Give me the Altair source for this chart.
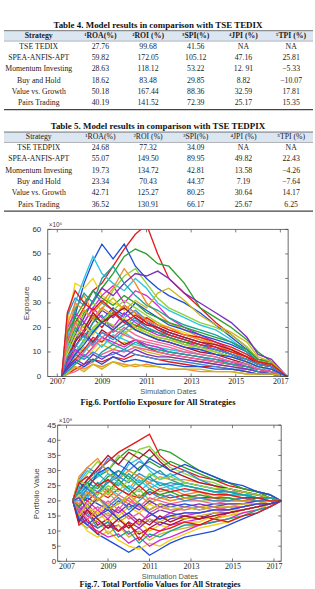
import altair as alt
import pandas as pd

# ---------------- table contents ----------------
headers = ["Strategy", "¹ROA(%)", "²ROI (%)", "³SPI(%)", "⁴JPI (%)", "⁵TPI (%)"]
metric_keys = ["ROA", "ROI", "SPI", "JPI", "TPI"]

table4_title = "Table 4. Model results in comparison with TSE TEDIX"
strategies4 = ["TSE TEDIX", "SPEA-ANFIS-APT", "Momentum Investing",
               "Buy and Hold", "Value vs. Growth", "Pairs Trading"]
roa4 = ["27.76", "59.82", "28.63", "18.62", "50.18", "40.19"]
roi4 = ["99.68", "172.05", "118.12", "83.48", "167.44", "141.52"]
spi4 = ["41.56", "105.12", "53.22", "29.85", "88.36", "72.39"]
jpi4 = ["NA", "47.16", "12. 91", "8.82", "32.59", "25.17"]
tpi4 = ["NA", "25.81", "−5.33", "−10.07", "17.81", "15.35"]

table5_title = "Table 5. Model results in comparison with TSE TEDPIX"
strategies5 = ["TSE TEDPIX", "SPEA-ANFIS-APT", "Momentum Investing",
               "Buy and Hold", "Value vs. Growth", "Pairs Trading"]
roa5 = ["24.68", "55.07", "19.73", "23.34", "42.71", "36.52"]
roi5 = ["77.32", "149.50", "134.72", "70.43", "125.27", "130.91"]
spi5 = ["34.09", "89.95", "42.81", "44.37", "80.25", "66.17"]
jpi5 = ["NA", "49.82", "13.58", "7.19", "30.64", "25.67"]
tpi5 = ["NA", "22.43", "−4.26", "−7.64", "14.17", "6.25"]

# ---------------- simulated paths ----------------
year_ticks = [2007, 2009, 2011, 2013, 2015, 2017]
date_span = [2006.57, 2017.35]
exposure_ticks = [0, 10, 20, 30, 40, 50, 60]
value_ticks = [0, 5, 10, 15, 20, 25, 30, 35, 40, 45]

exposure_dates = [2007.2, 2007.45, 2007.8, 2008.2, 2008.6, 2009.0, 2009.5, 2010.0,
                  2010.5, 2011.0, 2011.5, 2012.0, 2012.7, 2013.4, 2014.1, 2014.8,
                  2015.5, 2016.0, 2016.6, 2017.3]
exposure_paths = [
    [0, 10, 22, 28, 35, 38, 45, 52, 58, 62, 50, 40, 34, 28, 22, 17, 12, 7, 6, 0],
    [0, 12, 25, 38, 47, 54, 48, 54, 45, 40, 36, 33, 30, 26, 21, 16, 11, 7, 6, 0],
    [0, 8, 18, 26, 30, 36, 42, 49, 52, 50, 46, 45, 38, 28, 24, 20, 15, 10, 6, 0],
    [0, 22, 38, 36, 40, 33, 30, 28, 25, 24, 22, 20, 18, 15, 12, 10, 8, 6, 5, 0],
    [0, 15, 30, 40, 49, 42, 38, 35, 40, 36, 30, 27, 24, 21, 19, 15, 10, 6, 5, 0],
    [0, 5, 14, 22, 28, 33, 37, 30, 35, 33, 29, 24, 20, 17, 14, 11, 8, 5, 4, 0],
    [0, 18, 28, 33, 26, 30, 36, 44, 38, 30, 26, 22, 19, 16, 13, 10, 7, 5, 4, 0],
    [0, 3, 9, 15, 22, 27, 24, 29, 26, 22, 20, 18, 16, 14, 12, 9, 6, 4, 3, 0],
    [0, 10, 20, 25, 30, 27, 35, 41, 44, 38, 32, 28, 25, 22, 20, 17, 12, 7, 5, 0],
    [0, 6, 12, 18, 24, 20, 26, 22, 19, 17, 15, 14, 12, 10, 9, 7, 5, 3, 2, 0],
    [0, 12, 20, 16, 22, 25, 18, 21, 24, 20, 18, 16, 13, 12, 10, 8, 6, 4, 3, 0],
    [0, 2, 6, 10, 14, 18, 16, 20, 17, 15, 14, 13, 11, 9, 8, 6, 4, 3, 2, 0],
    [0, 25, 32, 29, 35, 30, 27, 24, 27, 23, 20, 17, 15, 13, 11, 9, 7, 5, 4, 0],
    [0, 4, 8, 12, 9, 13, 11, 14, 12, 10, 9, 8, 7, 6, 5, 4, 3, 2, 1, 0],
    [0, 1, 3, 5, 7, 6, 8, 7, 9, 8, 7, 6, 5, 4, 4, 3, 2, 1, 1, 0],
    [0, 8, 15, 22, 18, 23, 28, 25, 30, 27, 24, 21, 19, 17, 15, 13, 10, 6, 5, 0],
    [0, 14, 24, 30, 35, 32, 29, 33, 30, 26, 24, 22, 20, 18, 16, 14, 11, 7, 6, 0],
    [0, 3, 5, 8, 11, 15, 13, 17, 21, 18, 16, 15, 14, 12, 10, 8, 6, 4, 3, 0],
    [0, 7, 13, 10, 15, 12, 17, 15, 13, 12, 11, 10, 9, 8, 6, 5, 4, 3, 2, 0],
    [0, 20, 26, 22, 28, 24, 20, 26, 22, 19, 17, 16, 14, 12, 11, 9, 7, 5, 4, 0],
    [0, 2, 4, 3, 5, 4, 6, 5, 4, 5, 4, 3, 3, 2, 2, 2, 1, 1, 1, 0],
    [0, 9, 17, 24, 31, 36, 33, 38, 42, 41, 43, 40, 34, 30, 26, 22, 16, 9, 7, 0],
    [0, 5, 10, 14, 19, 23, 27, 31, 28, 25, 22, 19, 17, 15, 13, 11, 8, 5, 4, 0],
    [0, 16, 12, 18, 14, 19, 16, 13, 15, 12, 10, 9, 8, 7, 6, 5, 4, 3, 2, 0],
    [0, 11, 27, 34, 30, 40, 45, 38, 33, 29, 27, 24, 21, 19, 17, 14, 10, 6, 5, 0],
    [0, 1, 2, 4, 6, 9, 11, 10, 12, 11, 10, 9, 8, 7, 6, 5, 3, 2, 2, 0],
    [0, 6, 9, 7, 10, 8, 9, 11, 9, 8, 7, 7, 6, 5, 4, 3, 3, 2, 1, 0],
    [0, 13, 21, 27, 23, 28, 32, 27, 31, 28, 34, 36, 31, 25, 21, 18, 14, 8, 6, 0],
    [0, 4, 7, 11, 16, 14, 19, 23, 20, 24, 21, 19, 17, 16, 14, 12, 9, 6, 4, 0],
    [0, 3, 6, 4, 7, 5, 8, 6, 7, 6, 5, 5, 4, 4, 3, 3, 2, 1, 1, 0],
    [0, 18, 24, 20, 25, 22, 26, 23, 21, 19, 18, 16, 14, 13, 11, 9, 7, 5, 4, 0],
    [0, 9, 16, 21, 17, 22, 19, 24, 20, 17, 16, 15, 13, 11, 10, 8, 6, 4, 3, 0],
    [0, 14, 10, 15, 19, 16, 13, 18, 15, 13, 12, 11, 10, 9, 8, 6, 5, 3, 3, 0],
    [0, 5, 11, 8, 12, 16, 14, 12, 15, 13, 12, 10, 9, 8, 7, 6, 4, 3, 2, 0],
    [0, 21, 30, 27, 24, 28, 25, 29, 26, 23, 21, 20, 17, 15, 13, 11, 8, 6, 5, 0],
    [0, 3, 7, 5, 9, 7, 10, 8, 11, 9, 8, 8, 7, 6, 5, 4, 3, 2, 1, 0],
    [0, 11, 18, 14, 20, 23, 21, 18, 20, 18, 16, 15, 13, 12, 10, 8, 6, 4, 3, 0],
    [0, 7, 14, 19, 26, 22, 25, 28, 24, 21, 20, 18, 16, 14, 13, 11, 8, 5, 4, 0],
    [0, 2, 5, 9, 6, 10, 13, 11, 14, 12, 11, 10, 9, 8, 7, 5, 4, 2, 2, 0],
    [0, 15, 22, 18, 12, 16, 19, 17, 15, 14, 13, 12, 10, 9, 8, 6, 5, 3, 2, 0],
    [0, 8, 12, 17, 13, 18, 15, 19, 23, 20, 18, 17, 15, 13, 11, 9, 7, 5, 4, 0],
    [0, 1, 4, 2, 5, 3, 6, 4, 5, 4, 4, 3, 3, 3, 2, 2, 1, 1, 1, 0],
    [0, 26, 35, 30, 27, 31, 27, 22, 25, 22, 19, 17, 15, 13, 12, 10, 8, 6, 5, 0],
    [0, 4, 9, 13, 18, 22, 19, 23, 19, 17, 15, 14, 12, 11, 9, 8, 6, 4, 3, 0],
]

value_dates = [2007.3, 2007.6, 2008.0, 2008.5, 2009.0, 2009.5, 2010.0, 2010.5, 2011.0,
               2011.5, 2012.0, 2012.7, 2013.4, 2014.1, 2014.8, 2015.5, 2016.2, 2016.8,
               2017.35]
value_paths = [
    [20, 24, 27, 30, 33, 36, 38, 40, 42, 35, 32, 30, 28, 27, 25, 24, 23, 22, 20],
    [20, 16, 12, 9, 7, 5, 3, 5, 2, 4, 6, 8, 9, 10, 12, 14, 16, 18, 20],
    [20, 22, 25, 28, 30, 34, 37, 36, 34, 37, 36, 33, 30, 28, 26, 24, 23, 21, 20],
    [20, 14, 10, 8, 10, 7, 5, 4, 6, 5, 7, 9, 11, 12, 13, 15, 17, 18, 20],
    [20, 26, 30, 28, 31, 27, 32, 34, 30, 27, 29, 26, 25, 24, 23, 22, 22, 21, 20],
    [20, 18, 15, 13, 11, 12, 9, 11, 8, 10, 12, 13, 14, 15, 16, 17, 18, 19, 20],
    [20, 23, 21, 25, 22, 26, 24, 28, 25, 23, 24, 22, 23, 21, 22, 21, 21, 20, 20],
    [20, 17, 19, 15, 18, 14, 16, 13, 15, 17, 16, 18, 17, 18, 17, 18, 19, 19, 20],
    [20, 25, 29, 33, 30, 35, 33, 37, 38, 34, 31, 29, 27, 26, 24, 23, 22, 21, 20],
    [20, 15, 17, 12, 14, 10, 12, 9, 11, 13, 12, 14, 15, 14, 16, 17, 18, 19, 20],
    [20, 21, 24, 22, 27, 25, 29, 26, 28, 30, 27, 25, 24, 23, 22, 22, 21, 21, 20],
    [20, 19, 16, 18, 15, 17, 14, 16, 13, 14, 15, 16, 16, 17, 18, 18, 19, 20, 20],
    [20, 27, 31, 29, 34, 32, 30, 33, 31, 29, 28, 30, 27, 25, 24, 23, 22, 21, 20],
    [20, 13, 11, 14, 9, 12, 8, 10, 7, 9, 10, 11, 12, 14, 15, 16, 17, 19, 20],
    [20, 22, 20, 23, 21, 24, 22, 21, 23, 22, 21, 22, 21, 21, 20, 21, 20, 20, 20],
    [20, 18, 21, 19, 17, 20, 18, 19, 17, 19, 18, 19, 18, 19, 19, 19, 20, 20, 20],
    [20, 24, 26, 24, 28, 30, 27, 31, 33, 31, 33, 31, 29, 27, 26, 24, 23, 22, 20],
    [20, 16, 14, 16, 13, 15, 11, 13, 10, 12, 11, 13, 13, 15, 15, 17, 18, 19, 20],
    [20, 25, 23, 26, 24, 22, 25, 23, 26, 24, 25, 23, 24, 23, 22, 22, 21, 21, 20],
    [20, 15, 12, 10, 8, 9, 6, 8, 5, 7, 8, 10, 12, 13, 14, 16, 17, 18, 20],
    [20, 28, 31, 34, 29, 27, 30, 28, 26, 28, 27, 27, 26, 25, 23, 23, 22, 21, 20],
    [20, 17, 13, 11, 13, 10, 13, 11, 14, 12, 14, 15, 14, 16, 16, 17, 18, 19, 20],
    [20, 21, 18, 20, 23, 19, 21, 24, 20, 22, 20, 21, 20, 20, 21, 20, 20, 20, 20],
    [20, 23, 27, 31, 35, 32, 36, 34, 37, 33, 30, 28, 26, 25, 24, 23, 22, 21, 20],
    [20, 14, 16, 11, 13, 8, 10, 6, 9, 8, 10, 12, 12, 13, 14, 15, 17, 18, 20],
    [20, 19, 22, 21, 19, 22, 20, 18, 21, 20, 19, 20, 20, 19, 20, 20, 20, 20, 20],
    [20, 22, 25, 23, 26, 28, 26, 29, 27, 26, 25, 26, 25, 24, 23, 22, 21, 21, 20],
    [20, 16, 18, 14, 16, 13, 15, 12, 14, 13, 15, 14, 15, 16, 17, 17, 18, 19, 20],
    [20, 12, 14, 9, 12, 10, 13, 7, 11, 10, 11, 13, 12, 14, 13, 15, 16, 18, 20],
    [20, 26, 24, 29, 31, 28, 33, 30, 34, 32, 30, 32, 30, 28, 26, 25, 23, 22, 20],
    [20, 18, 22, 26, 23, 27, 24, 21, 24, 22, 23, 21, 22, 21, 21, 20, 21, 20, 20],
    [20, 22, 18, 16, 19, 15, 18, 16, 19, 17, 18, 17, 18, 18, 19, 19, 19, 20, 20],
    [20, 24, 21, 25, 29, 26, 23, 27, 24, 26, 24, 25, 24, 23, 22, 22, 21, 20, 20],
    [20, 16, 20, 17, 14, 18, 15, 12, 16, 14, 16, 15, 16, 17, 17, 18, 19, 19, 20],
    [20, 19, 23, 20, 24, 21, 19, 22, 19, 21, 20, 21, 21, 20, 20, 20, 20, 20, 20],
    [20, 21, 17, 21, 18, 16, 19, 17, 20, 18, 19, 18, 19, 18, 19, 19, 20, 20, 20],
    [20, 27, 25, 22, 25, 23, 27, 25, 29, 27, 28, 26, 25, 24, 24, 23, 22, 21, 20],
    [20, 13, 17, 14, 11, 14, 11, 14, 12, 15, 13, 15, 14, 15, 16, 17, 18, 19, 20],
    [20, 23, 26, 29, 26, 30, 28, 25, 28, 25, 26, 25, 24, 23, 23, 22, 21, 21, 20],
    [20, 17, 14, 17, 20, 17, 21, 18, 16, 18, 17, 17, 18, 17, 18, 18, 19, 20, 20],
    [20, 20, 24, 21, 18, 21, 17, 20, 23, 21, 22, 20, 21, 20, 20, 21, 20, 20, 20],
    [20, 15, 19, 21, 17, 19, 22, 19, 17, 19, 17, 18, 17, 18, 18, 19, 19, 20, 20],
    [20, 26, 28, 25, 27, 24, 22, 25, 22, 24, 23, 24, 23, 22, 22, 21, 21, 20, 20],
    [20, 14, 12, 15, 17, 14, 16, 19, 16, 14, 15, 16, 16, 17, 17, 18, 19, 19, 20],
]

line_colors = ["#e41a1c", "#1f4fd8", "#2ca02c", "#f2d21b", "#2ec4e6", "#d62ad0",
               "#f28c28", "#7b2fbe", "#8fd13f", "#b3122e", "#1aa39a", "#f06292",
               "#3b8bd9", "#c9b81c"]

SERIF = "Liberation Serif"
SANS = "Liberation Sans"
one_row = pd.DataFrame({"k": [0]})
no_frame = alt.ViewBackground(stroke="transparent")


def table_panel(title, strategies, columns, header_bold, height):
    head = pd.DataFrame({"col": metric_keys, "text": headers[1:]})
    body = pd.DataFrame([
        {"col": key, "row": r + 1, "text": v}
        for key, col in zip(metric_keys, columns)
        for r, v in enumerate(col)
    ])
    names = pd.DataFrame({"row": list(range(1, 7)), "text": strategies})

    xcol = alt.X("col:N", sort=metric_keys, axis=None,
                 scale=alt.Scale(type="point", domain=metric_keys, range=[100, 292], padding=0))
    yrow = alt.Y("row:O", axis=None,
                 scale=alt.Scale(type="point", domain=list(range(1, 7)), range=[44.3, 101], padding=0))
    weight = "bold" if header_bold else "normal"

    band = alt.Chart(one_row).mark_rect(color="#dce6f1").encode(
        x=alt.value(3), x2=alt.value(314), y=alt.value(28), y2=alt.value(38.5))
    top_rule = alt.Chart(one_row).mark_rule(color="#555", strokeWidth=0.8).encode(
        x=alt.value(3), x2=alt.value(314), y=alt.value(28))
    mid_rule = alt.Chart(one_row).mark_rule(color="#888", strokeWidth=0.6).encode(
        x=alt.value(3), x2=alt.value(314), y=alt.value(38.5))
    bottom_rule = alt.Chart(one_row).mark_rule(color="#444", strokeWidth=1.2).encode(
        x=alt.value(3), x2=alt.value(314), y=alt.value(107.5))
    title_txt = alt.Chart(one_row).mark_text(
        font=SERIF, fontSize=9, fontWeight="bold", color="#111").encode(
        x=alt.value(158), y=alt.value(22), text=alt.value(title))
    head_name = alt.Chart(one_row).mark_text(
        font=SERIF, fontSize=7.8, fontWeight=weight, color="#222").encode(
        x=alt.value(38), y=alt.value(33), text=alt.value(headers[0]))
    head_cols = alt.Chart(head).mark_text(
        font=SERIF, fontSize=7.8, fontWeight=weight, color="#222").encode(
        x=xcol, y=alt.value(33), text="text:N")
    body_cols = alt.Chart(body).mark_text(
        font=SERIF, fontSize=7.8, color="#222").encode(
        x=xcol, y=yrow, text="text:N")
    body_names = alt.Chart(names).mark_text(
        font=SERIF, fontSize=7.8, color="#222").encode(
        x=alt.value(38), y=yrow, text="text:N")

    return alt.layer(band, top_rule, mid_rule, bottom_rule, title_txt,
                     head_name, head_cols, body_cols, body_names).properties(
        width=315, height=height, view=no_frame)


def paths_frame(dates, paths):
    return pd.DataFrame([
        {"path": i, "date": d, "value": v}
        for i, p in enumerate(paths)
        for d, v in zip(dates, p)
    ])


def line_panel(dates, paths, yticks, ytitle, exponent, left, right, height,
               label_pad, title_pad):
    """A full-width panel whose plot box spans [left, right] horizontally."""
    ymax = yticks[-1]
    xscale = alt.Scale(domain=date_span, range=[left, right], nice=False, zero=False)
    yscale = alt.Scale(domain=[0, ymax], nice=False)
    xaxis = alt.Axis(values=year_ticks, format="d", grid=False, tickSize=0,
                     labelFont=SERIF, labelFontSize=8, labelColor="#222",
                     labelPadding=1, domain=False, labelOverlap=False,
                     title="Simulation Dates", titleFont=SANS, titleFontSize=7.5,
                     titleFontWeight="normal", titleColor="#555", titlePadding=2)
    yaxis = alt.Axis(values=yticks, tickCount=len(yticks), grid=False, tickSize=0,
                     labelOverlap=False, labelFont=SANS, labelFontSize=8,
                     labelColor="#333", labelPadding=label_pad, domain=False,
                     offset=-left, title=ytitle, titleFont=SANS, titleFontSize=8,
                     titleFontWeight="normal", titleColor="#444", titlePadding=title_pad)
    x = alt.X("date:Q", scale=xscale, axis=xaxis)
    y = alt.Y("value:Q", scale=yscale, axis=yaxis)

    lines = alt.Chart(paths_frame(dates, paths)).mark_line(strokeWidth=1.35, clip=True).encode(
        x=x, y=y,
        color=alt.Color("path:N", scale=alt.Scale(range=line_colors), legend=None))

    # plot box and small inward tick marks on all four sides
    span_df = pd.DataFrame({"date": [date_span[0]], "date_end": [date_span[1]],
                            "value": [0], "value_end": [ymax]})
    box = alt.Chart(span_df).mark_rect(fillOpacity=0, stroke="#444", strokeWidth=0.8).encode(
        x=x, x2="date_end:Q", y=y, y2="value_end:Q")
    ytick_df = pd.DataFrame({"value": yticks})
    xtick_df = pd.DataFrame({"date": year_ticks})
    tick_style = dict(color="#444", strokeWidth=0.7)
    left_ticks = alt.Chart(ytick_df).mark_rule(**tick_style).encode(
        y=y, x=alt.value(left), x2=alt.value(left + 3))
    right_ticks = alt.Chart(ytick_df).mark_rule(**tick_style).encode(
        y=y, x=alt.value(right - 3), x2=alt.value(right))
    bottom_ticks = alt.Chart(xtick_df).mark_rule(**tick_style).encode(
        x=x, y=alt.value(height - 3), y2=alt.value(height))
    top_ticks = alt.Chart(xtick_df).mark_rule(**tick_style).encode(
        x=x, y=alt.value(0), y2=alt.value(3))

    expo = alt.Chart(one_row).mark_text(
        font=SANS, fontSize=6.5, color="#444", align="left", baseline="bottom").encode(
        x=alt.value(left + 1), y=alt.value(-1), text=alt.value(exponent))
    return alt.layer(lines, box, left_ticks, right_ticks, bottom_ticks, top_ticks,
                     expo).properties(width=315, height=height, view=no_frame)


def caption_panel(text, height, ypos, xpos, size=8.6):
    return alt.Chart(one_row).mark_text(
        font=SERIF, fontSize=size, fontWeight="bold", color="#111", baseline="middle").encode(
        x=alt.value(xpos), y=alt.value(ypos), text=alt.value(text)).properties(
        width=315, height=height, view=no_frame)


table4 = table_panel(table4_title, strategies4, [roa4, roi4, spi4, jpi4, tpi4], True, 102)
table5 = table_panel(table5_title, strategies5, [roa5, roi5, spi5, jpi5, tpi5], False, 126)
fig6 = line_panel(exposure_dates, exposure_paths, exposure_ticks, "Exposure", "×10⁶",
                  47, 289, 148, 7, 1)
cap6 = caption_panel("Fig.6. Portfolio Exposure for All Strategies", 49, 26, 158)
fig7 = line_panel(value_dates, value_paths, value_ticks, "Portfolio Value", "×10⁸",
                  57, 282, 137, 2, 6)
cap7 = caption_panel("Fig.7. Total Portfolio Values for All Strategies", 27, 22.5, 160, 8.4)

chart = alt.vconcat(table4, table5, fig6, cap6, fig7, cap7,
                    spacing=0, bounds="flush").properties(
    padding=0, background="white"
).configure_view(stroke="transparent")

chart.save("out.html", embed_options={"renderer": "svg", "actions": False})
